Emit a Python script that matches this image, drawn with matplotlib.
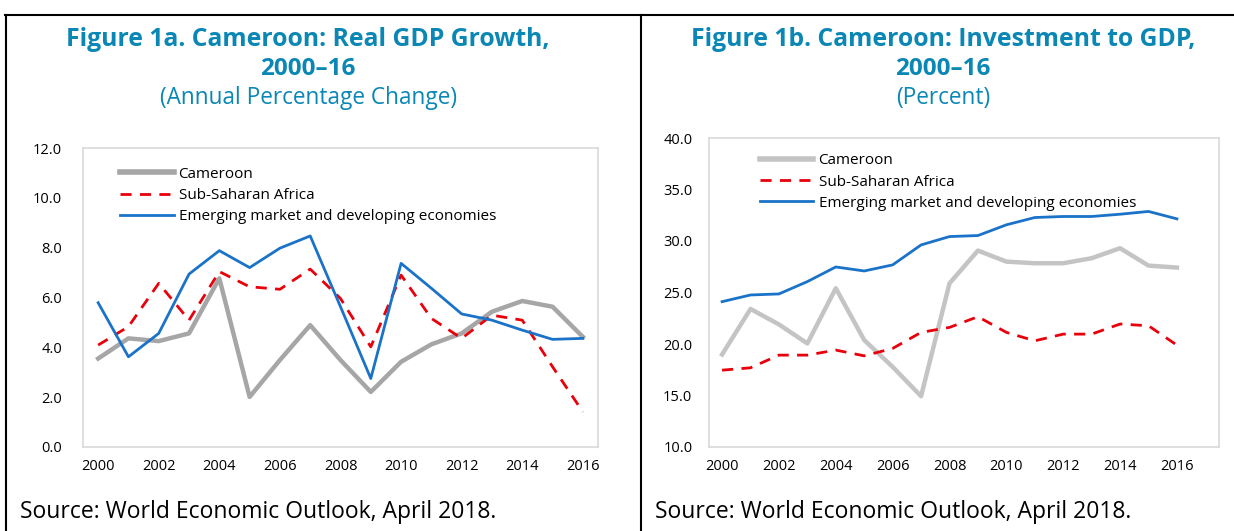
import matplotlib.pyplot as plt
from matplotlib.lines import Line2D

plt.rcParams['font.family'] = ['Open Sans', 'DejaVu Sans']

# ---- data ----
years = list(range(2000, 2017))
series_names = ["Cameroon", "Sub-Saharan Africa", "Emerging market and developing economies"]

gdp_cmr = [3.55, 4.36, 4.25, 4.56, 6.77, 2.01, 3.49, 4.89, 3.49, 2.21,
           3.42, 4.12, 4.56, 5.43, 5.86, 5.63, 4.42]
gdp_ssa = [4.09, 4.83, 6.57, 5.09, 7.04, 6.43, 6.33, 7.14, 5.96, 4.02,
           6.90, 5.16, 4.36, 5.29, 5.09, 3.22, 1.41]
gdp_emde = [5.79, 3.62, 4.56, 6.94, 7.88, 7.20, 7.98, 8.47, 5.63, 2.75,
            7.37, 6.37, 5.34, 5.09, 4.69, 4.32, 4.36]

inv_cmr = [18.98, 23.40, 21.90, 20.05, 25.41, 20.38, 17.78, 14.93, 25.89, 29.07,
           28.00, 27.84, 27.84, 28.33, 29.30, 27.61, 27.42]
inv_ssa = [17.46, 17.69, 18.92, 18.92, 19.41, 18.85, 19.57, 21.13, 21.61, 22.65,
           21.13, 20.31, 20.96, 20.96, 21.94, 21.77, 19.89]
inv_emde = [24.11, 24.76, 24.86, 26.06, 27.48, 27.09, 27.68, 29.62, 30.43, 30.53,
            31.57, 32.28, 32.38, 32.38, 32.60, 32.87, 32.15]

TITLE_C = "#0b87b5"
RED = "#e8000b"
BLUE = "#1a73c8"
FRAME = "#d9d9d9"
W, H = 1234, 531

fig = plt.figure(figsize=(12.34, 5.31), dpi=100)

# panel borders
fig.add_artist(Line2D([5 / W, 1], [1 - 15 / H] * 2, color="black", lw=1.5))
fig.add_artist(Line2D([6 / W] * 2, [0, 1 - 15 / H], color="black", lw=1.5))
fig.add_artist(Line2D([641 / W] * 2, [0, 1 - 15 / H], color="black", lw=1.5))


def draw_panel(rect, cmr, ssa, emde, cmr_color, ylim, yticks, xlim, ylab_pad, leg_anchor):
    ax = fig.add_axes(rect)
    ax.plot(years, cmr, color=cmr_color, lw=3.2)
    ax.plot(years, ssa, color=RED, lw=2, dashes=(4, 3))
    ax.plot(years, emde, color=BLUE, lw=2)
    ax.set_ylim(*ylim)
    ax.set_yticks(yticks)
    ax.set_yticklabels([f"{v:.1f}" for v in yticks])
    ax.set_xlim(*xlim)
    ax.set_xticks(years[::2])
    ax.tick_params(length=0, labelsize=10.5, colors="black")
    ax.tick_params(axis="x", pad=9)
    ax.tick_params(axis="y", pad=ylab_pad)
    for s in ax.spines.values():
        s.set_color(FRAME)
        s.set_linewidth(1.2)
    handles = [Line2D([], [], color=cmr_color, lw=4),
               Line2D([], [], color=RED, lw=2, dashes=(4, 3)),
               Line2D([], [], color=BLUE, lw=2)]
    ax.legend(handles, series_names, loc="upper left", bbox_to_anchor=leg_anchor,
              frameon=False, fontsize=11, borderpad=0, borderaxespad=0,
              handlelength=3.5, handletextpad=0.33, labelspacing=0.4)
    return ax


draw_panel([83 / W, 84 / H, 515 / W, 299 / H],
           gdp_cmr, gdp_ssa, gdp_emde, "#a6a6a6",
           (0, 12), [0, 2, 4, 6, 8, 10, 12], (1999.5, 2016.5), 15, (0.072, 0.937))

draw_panel([709 / W, 84 / H, 510 / W, 309 / H],
           inv_cmr, inv_ssa, inv_emde, "#c4c4c4",
           (10, 40), [10, 15, 20, 25, 30, 35, 40], (1999.54, 2017.48), 12, (0.1, 0.95))

# titles
for cx, t1, t2 in [(308, "Figure 1a. Cameroon: Real GDP Growth,", "(Annual Percentage Change)"),
                   (943, "Figure 1b. Cameroon: Investment to GDP,", "(Percent)")]:
    fig.text(cx / W, 1 - 46 / H, t1, ha="center", va="baseline",
             fontsize=17.8, fontweight="bold", color=TITLE_C)
    fig.text(cx / W, 1 - 75 / H, "2000–16", ha="center", va="baseline",
             fontsize=17.5, fontweight="bold", color=TITLE_C)
    fig.text(cx / W, 1 - 104 / H, t2, ha="center", va="baseline",
             fontsize=16.3, color=TITLE_C)

# sources
for sx in (20, 655):
    fig.text(sx / W, 1 - 518 / H, "Source: World Economic Outlook, April 2018.",
             ha="left", va="baseline", fontsize=16.5)

fig.savefig("out.png", dpi=100)
